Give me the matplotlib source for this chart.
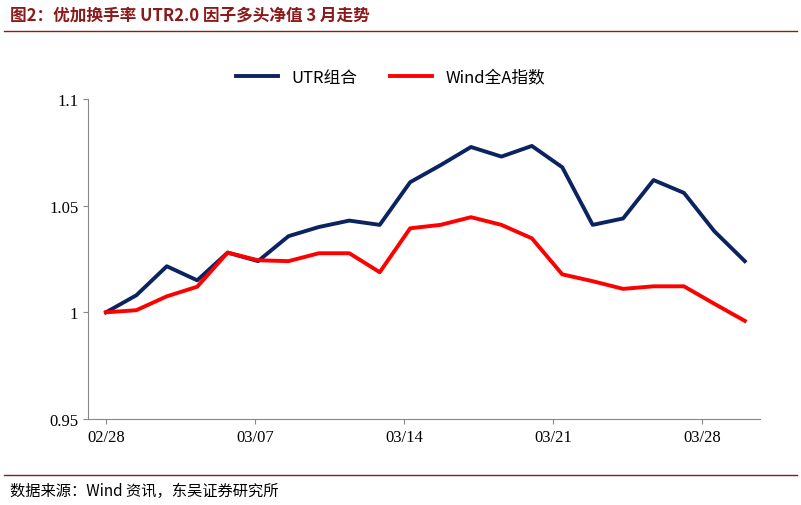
import matplotlib
matplotlib.use("Agg")
import matplotlib.pyplot as plt

plt.rcParams['font.family'] = ['Noto Sans CJK SC', 'DejaVu Sans']

tick_labels = ["02/28", "03/07", "03/14", "03/21", "03/28"]
tick_pos = [0, 4.9, 9.8, 14.7, 19.6]
utr = [1.0, 1.008, 1.0216, 1.015, 1.028, 1.024, 1.0357, 1.040, 1.043, 1.041, 1.061,
       1.069, 1.0775, 1.073, 1.078, 1.068, 1.041, 1.044, 1.062, 1.056, 1.038, 1.024]
winda = [1.0, 1.001, 1.0075, 1.012, 1.028, 1.0244, 1.024, 1.0277, 1.0277, 1.0188, 1.0394,
         1.041, 1.0446, 1.041, 1.0347, 1.0178, 1.0146, 1.011, 1.0122, 1.0122, 1.004, 0.996]

fig = plt.figure(figsize=(8.01, 5.06), dpi=100)
ax = fig.add_axes([88/801, 1-420/506, (760-88)/801, 320/506])
x = list(range(len(utr)))
ax.plot(x, utr, color='#0b2461', lw=2.8, label='UTR组合')
ax.plot(x, winda, color='#ff0000', lw=2.8, label='Wind全A指数')
ax.set_ylim(0.95, 1.1)
ax.set_xlim(-0.59, 21.5)
ax.set_yticks([0.95, 1.0, 1.05, 1.1])
ax.set_yticklabels(['0.95', '1', '1.05', '1.1'], fontsize=12, family='Liberation Serif')
ax.set_xticks(tick_pos)
ax.set_xticklabels(tick_labels, fontsize=12, family='Liberation Serif')
for s in ['top', 'right']:
    ax.spines[s].set_visible(False)
ax.spines['left'].set_color('#888888')
ax.spines['bottom'].set_color('#888888')
ax.tick_params(axis='both', direction='out', color='#888888')
ax.legend(loc='upper center', bbox_to_anchor=(0.45, 1.14), ncol=2, frameon=False, fontsize=12,
          handlelength=2.5, columnspacing=2)

fig.text(0.012, 1-16/506, '图2：优加换手率 UTR2.0 因子多头净值 3 月走势', fontsize=12,
         fontweight='bold', color='#8b1a1a', va='center')
fig.add_artist(plt.Line2D([0.005, 0.995], [1-32/506, 1-32/506], color='#8b1a1a', lw=1))
fig.add_artist(plt.Line2D([0.005, 0.995], [1-476/506, 1-476/506], color='#8b1a1a', lw=1))
fig.text(0.012, 1-491/506, '数据来源：Wind 资讯，东吴证券研究所', fontsize=11, va='center')
fig.savefig('out.png', dpi=100)
